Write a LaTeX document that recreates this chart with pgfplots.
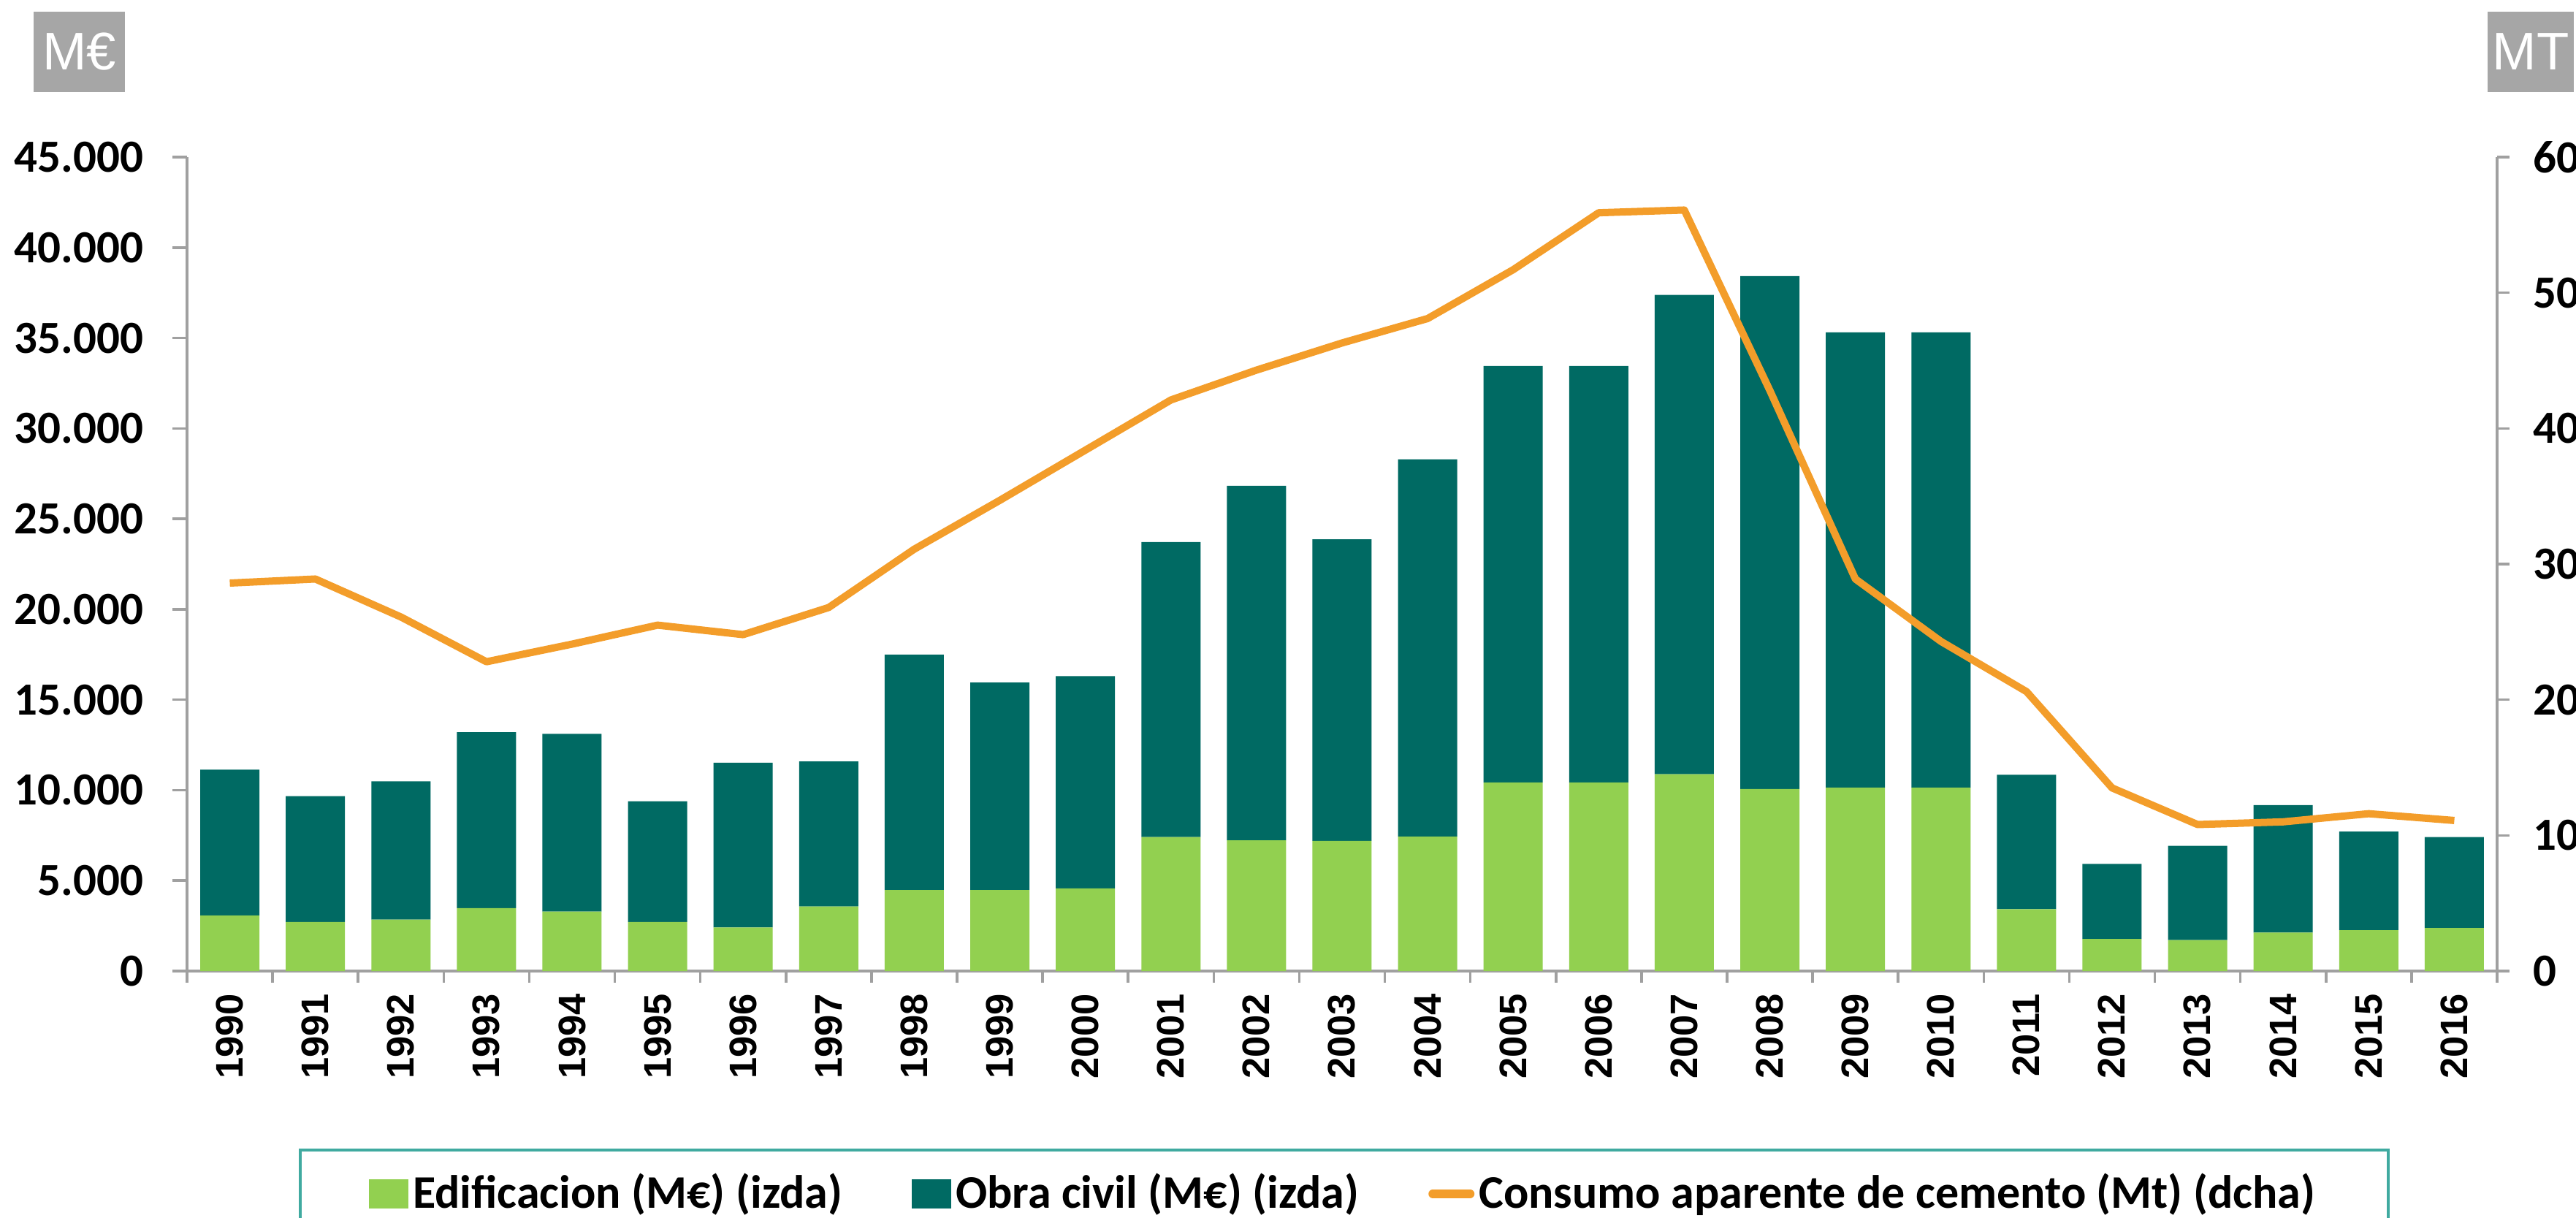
\documentclass[border=0pt]{standalone}
\usepackage{fontspec}
\setmainfont{Carlito}
\newfontfamily\arialfont{Liberation Sans}
\usepackage{pgfplots}
\pgfplotsset{compat=1.18}
\definecolor{cgreen}{RGB}{146,208,80}
\definecolor{cteal}{RGB}{0,106,99}
\definecolor{corange}{RGB}{243,157,42}
\definecolor{caxis}{RGB}{160,160,160}
\definecolor{cbox}{RGB}{166,166,166}
\definecolor{cleg}{RGB}{64,170,160}
\begin{document}
\begin{tikzpicture}
\useasboundingbox (-51.2pt,-67.4pt) rectangle (654pt,265.8pt);
\begin{axis}[
  at={(0,0)}, anchor=south west, scale only axis,
  width=632.4pt, height=222.8pt,
  xmin=1989.5, xmax=2016.5, ymin=0, ymax=45000,
  axis y line*=left, axis x line*=bottom,
  axis line style={draw=caxis, line width=0.7pt, -},
  every tick/.style={draw=caxis, line width=0.7pt},
  tick align=outside, major tick length=4pt, minor tick length=3.2pt,
  ybar stacked, bar width=16.2pt,
  xtick={1990,...,2016}, major x tick style={draw=none},
  minor xtick={1989.5,1990.5,...,2016.5},
  ytick={0,5000,...,45000}, scaled y ticks=false,
  /pgf/number format/assume math mode=true,
  yticklabel style={font=\fontsize{12.6}{12.6}\selectfont\bfseries, /pgf/number format/1000 sep={.}, inner sep=0pt, xshift=-7.8pt},
  xticklabel shift=2pt,
  xticklabel style={rotate=90, anchor=east, font=\arialfont\fontsize{10.5}{10.5}\selectfont\bfseries, /pgf/number format/1000 sep={}, inner sep=0pt},
]
\addplot[fill=cgreen, draw=none] coordinates {
(1990,3080) (1991,2710) (1992,2840) (1993,3480) (1994,3290) (1995,2710) (1996,2410) (1997,3570) (1998,4480) (1999,4480)
(2000,4570) (2001,7410) (2002,7230) (2003,7200) (2004,7440) (2005,10430) (2006,10430) (2007,10880) (2008,10060) (2009,10150)
(2010,10150) (2011,3420) (2012,1770) (2013,1710) (2014,2130) (2015,2260) (2016,2380)};
\addplot[fill=cteal, draw=none] coordinates {
(1990,8050) (1991,6960) (1992,7650) (1993,9720) (1994,9820) (1995,6680) (1996,9110) (1997,8020) (1998,13020) (1999,11470)
(2000,11740) (2001,16310) (2002,19600) (2003,16670) (2004,20850) (2005,23020) (2006,23020) (2007,26500) (2008,28360) (2009,25160)
(2010,25160) (2011,7430) (2012,4150) (2013,5210) (2014,7050) (2015,5450) (2016,5030)};
\end{axis}
\begin{axis}[
  at={(0,0)}, anchor=south west, scale only axis,
  width=632.4pt, height=222.8pt,
  xmin=1989.5, xmax=2016.5, ymin=0, ymax=60,
  axis y line*=right, axis x line=none,
  axis line style={draw=caxis, line width=0.7pt, -},
  every tick/.style={draw=caxis, line width=0.7pt},
  tick align=outside, major tick length=3.4pt,
  ytick={0,10,...,60},
  /pgf/number format/assume math mode=true,
  yticklabel style={anchor=west, font=\fontsize{12.6}{12.6}\selectfont\bfseries, inner sep=0pt, xshift=6.4pt},
  legend columns=3,
  legend style={at={(0.0484,-0.218)}, anchor=north west, draw=cleg, line width=0.8pt,
    font=\fontsize{12.8}{12.8}\selectfont\bfseries, inner xsep=18.8pt, inner ysep=4.5pt,
    nodes={inner xsep=1.2pt, inner ysep=2pt},
    /tikz/every even column/.append style={column sep=17.8pt}},
]
\addlegendimage{legend image code/.code={\fill[cgreen] (1pt,-3.6pt) rectangle (11pt,3.6pt);}}
\addlegendentry{Edificacion (M€) (izda)}
\addlegendimage{legend image code/.code={\fill[cteal] (0pt,-3.6pt) rectangle (10pt,3.6pt);}}
\addlegendentry{Obra civil (M€) (izda)}
\addplot[corange, line width=2pt, line join=round,
  legend image code/.code={\draw[corange, line width=2.4pt, line cap=round] (1.2pt,0pt) -- (11.4pt,0pt);}] coordinates {
(1990,28.6) (1991,28.9) (1992,26.1) (1993,22.8) (1994,24.1) (1995,25.5) (1996,24.8) (1997,26.8) (1998,31.1) (1999,34.7)
(2000,38.4) (2001,42.1) (2002,44.3) (2003,46.3) (2004,48.1) (2005,51.7) (2006,55.9) (2007,56.1) (2008,42.8) (2009,28.9)
(2010,24.3) (2011,20.6) (2012,13.5) (2013,10.8) (2014,11.0) (2015,11.6) (2016,11.1)};
\addlegendentry{Consumo aparente de cemento (Mt) (dcha)}
\end{axis}
\node[fill=cbox, text=white, font=\arialfont\fontsize{14.5}{14.5}\selectfont, minimum width=25pt, minimum height=22pt, inner sep=0pt] at (-29.5pt,251.6pt) {M€};
\node[fill=cbox, text=white, font=\arialfont\fontsize{14.5}{14.5}\selectfont, minimum width=23.6pt, minimum height=22pt, inner sep=0pt] at (641.6pt,251.6pt) {MT};
\end{tikzpicture}
\end{document}
